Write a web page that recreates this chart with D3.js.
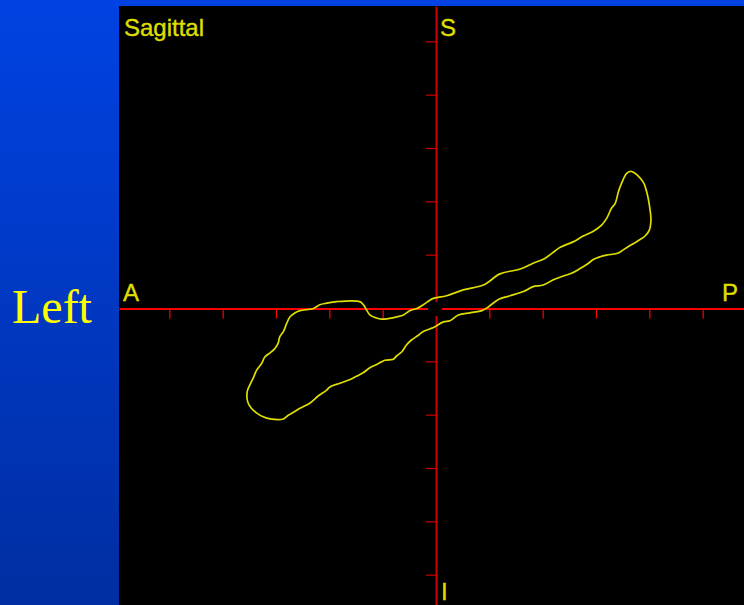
<!DOCTYPE html>
<html>
<head>
<meta charset="utf-8">
<script src="https://cdn.jsdelivr.net/npm/d3@7"></script>
<style>
  html, body { margin: 0; padding: 0; background: #0040e0; }
  svg { display: block; }
</style>
</head>
<body>
<svg id="chart" width="744" height="605"></svg>
<script>
// sagittal loop, in tick units (A-P across, I-S up)
var loopX = [3.67, 3.88, 3.95, 4.01, 4.03, 4.00, 3.92, 3.79, 3.67, 3.51, 3.42, 3.20, 3.08, 2.95, 2.86,
  2.70, 2.54, 2.39, 2.20, 2.01, 1.82, 1.64, 1.39, 1.17, 0.98, 0.86, 0.64, 0.42, 0.26, 0.14, -0.02,
  -0.11, -0.24, -0.33, -0.46, -0.55, -0.64, -0.74, -0.80, -0.96, -1.11, -1.24, -1.36, -1.49, -1.61,
  -1.80, -1.99, -2.05, -2.21, -2.36, -2.55, -2.68, -2.77, -2.86, -3.11, -3.24, -3.36, -3.47, -3.53,
  -3.54, -3.49, -3.43, -3.36, -3.27, -3.21, -3.11, -3.02, -2.96, -2.93, -2.86, -2.80, -2.74, -2.64,
  -2.55, -2.30, -2.18, -2.05, -1.86, -1.43, -1.36, -1.30, -1.24, -1.14, -1.02, -0.71, -0.61, -0.49,
  -0.36, -0.24, -0.11, -0.05, 0.20, 0.51, 0.89, 1.20, 1.58, 1.82, 2.04, 2.33, 2.57, 2.76, 2.95, 3.11,
  3.20, 3.29, 3.36, 3.42, 3.48, 3.58]
var loopY = [2.56, 2.37, 2.18, 1.87, 1.65, 1.46, 1.35, 1.26, 1.19, 1.09, 1.03, 0.99, 0.96, 0.91, 0.84,
  0.74, 0.65, 0.60, 0.53, 0.43, 0.40, 0.31, 0.23, 0.16, 0.02, -0.05, -0.09, -0.13, -0.24, -0.26, -0.35,
  -0.39, -0.44, -0.51, -0.60, -0.69, -0.82, -0.90, -0.96, -0.98, -1.06, -1.12, -1.21, -1.28, -1.34,
  -1.41, -1.48, -1.54, -1.65, -1.78, -1.88, -1.96, -2.01, -2.08, -2.08, -2.04, -1.97, -1.87, -1.76,
  -1.57, -1.44, -1.32, -1.16, -1.04, -0.92, -0.84, -0.76, -0.66, -0.54, -0.44, -0.29, -0.17, -0.09,
  -0.05, -0.01, 0.06, 0.09, 0.12, 0.12, 0.06, -0.04, -0.13, -0.18, -0.21, -0.16, -0.13, -0.05,
  -0.01, 0.06, 0.15, 0.18, 0.23, 0.34, 0.43, 0.64, 0.73, 0.84, 0.93, 1.14, 1.24, 1.35, 1.44, 1.56,
  1.68, 1.87, 1.96, 2.18, 2.34, 2.53]
var tickValues = [-5, -4, -3, -2, -1, 1, 2, 3, 4, 5]
var axisLabels = { top: 'S', bottom: 'I', left: 'A', right: 'P' }
var title = 'Sagittal'
var sideLabel = 'Left'

var svg = d3.select('#chart')
var W = 744, H = 605
var plot = { left: 119, top: 6, right: 744, bottom: 605 }
var ox = 436, oy = 308, unit = 53.333
var yellow = '#dede00'

// background gradient
var defs = svg.append('defs')
var grad = defs.append('linearGradient').attr('id', 'bg')
  .attr('x1', 0).attr('y1', 0).attr('x2', 0).attr('y2', 1)
grad.append('stop').attr('offset', '0%').attr('stop-color', '#0042e2')
grad.append('stop').attr('offset', '100%').attr('stop-color', '#002ea2')
svg.append('rect').attr('width', W).attr('height', H).attr('fill', 'url(#bg)')

svg.append('text')
  .attr('x', 12).attr('y', 323)
  .attr('font-family', '"Liberation Serif", "Times New Roman", serif')
  .attr('font-size', 48)
  .attr('fill', '#ffff00')
  .text(sideLabel)

svg.append('rect')
  .attr('x', plot.left).attr('y', plot.top)
  .attr('width', plot.right - plot.left).attr('height', plot.bottom - plot.top)
  .attr('fill', '#000')

var x = d3.scaleLinear()
  .domain([(plot.left - ox) / unit, (plot.right - ox) / unit])
  .range([plot.left, plot.right])
var y = d3.scaleLinear()
  .domain([(oy - plot.bottom) / unit, (oy - plot.top) / unit])
  .range([plot.bottom, plot.top])

// horizontal axis (A-P)
var gx = svg.append('g').attr('transform', 'translate(0,' + (oy + 0.5) + ')')
  .call(d3.axisBottom(x).tickValues(tickValues).tickSize(10).tickSizeOuter(0).tickFormat(''))
gx.select('.domain').attr('stroke', '#ff0000').attr('stroke-width', 2)
gx.selectAll('.tick line').attr('stroke', '#ff0000').attr('stroke-width', 1.2)

// vertical axis (I-S)
var gy = svg.append('g').attr('transform', 'translate(' + ox + ',0)')
  .call(d3.axisLeft(y).tickValues(tickValues).tickSize(10).tickSizeOuter(0).tickFormat(''))
gy.select('.domain').attr('stroke', '#cc0000').attr('stroke-width', 2)
gy.selectAll('.tick line').attr('stroke', '#cc0000').attr('stroke-width', 1.2)

// gap around the origin
svg.append('rect')
  .attr('x', x(0) - 8).attr('y', y(0) - 6)
  .attr('width', 14).attr('height', 14)
  .attr('fill', '#000')

// loop
var pts = loopX.map(function(v, i) { return [v, loopY[i]] })
var line = d3.line()
  .x(function(d) { return x(d[0]) })
  .y(function(d) { return y(d[1]) })
  .curve(d3.curveCatmullRomClosed.alpha(0.5))
svg.append('path')
  .attr('d', line(pts))
  .attr('fill', 'none')
  .attr('stroke', yellow)
  .attr('stroke-width', 1.7)

// labels
var font = '"Liberation Sans", Arial, sans-serif'
function label(tx, ty, s) {
  svg.append('text')
    .attr('x', tx).attr('y', ty)
    .attr('font-family', font)
    .attr('font-size', 24)
    .attr('fill', yellow)
    .attr('stroke', yellow)
    .attr('stroke-width', 0.4)
    .text(s)
}
label(124, 36, title)
label(440, 36, axisLabels.top)
label(123, 301, axisLabels.left)
label(722, 301, axisLabels.right)
label(441, 600, axisLabels.bottom)
</script>
</body>
</html>
